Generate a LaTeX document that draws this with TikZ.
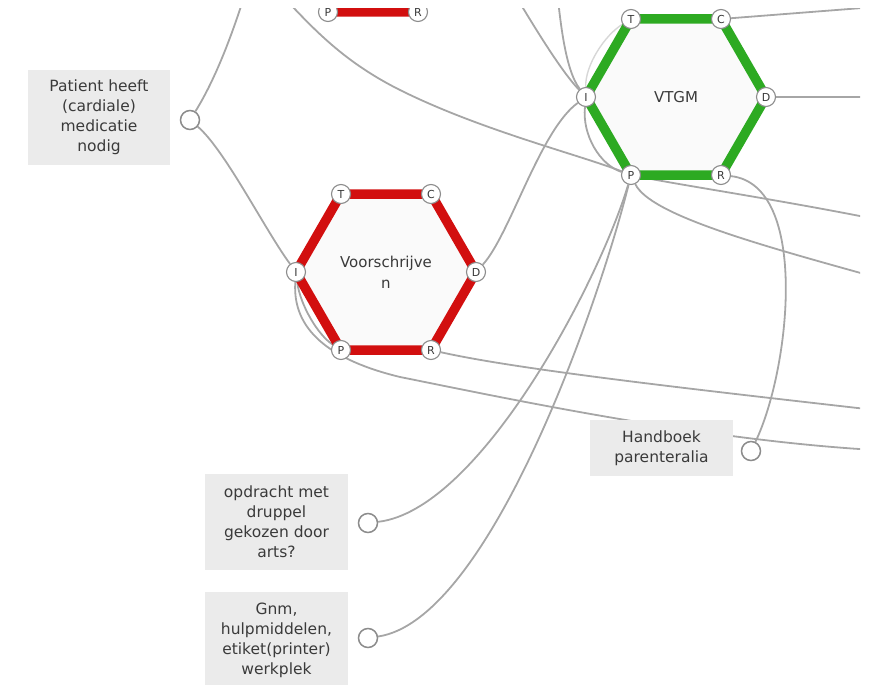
\documentclass[tikz,border=0pt]{standalone}
\usepackage{fontspec}
\setmainfont{DejaVu Sans}
\pgfdeclarelayer{links}
\pgfsetlayers{links,main}

\definecolor{linkgrey}{HTML}{A6A6A6}
\definecolor{portgrey}{HTML}{8C8C8C}
\definecolor{boxgrey}{HTML}{EBEBEB}
\definecolor{inkgrey}{HTML}{3A3A3A}
\definecolor{stopred}{HTML}{D20F0F}
\definecolor{gogreen}{HTML}{2DAA22}
\definecolor{hexfill}{HTML}{FAFAFA}

\tikzset{
  link/.style={draw=linkgrey, line width=1.8pt},
  faintlink/.style={draw=linkgrey!45, line width=1.4pt},
  infobox/.style={fill=boxgrey, text=inkgrey, align=center, inner sep=0pt,
    font=\fontsize{15.5}{20}\selectfont},
  socket/.style={circle, draw=portgrey, fill=white, line width=1.5pt,
    minimum size=19pt, inner sep=0pt},
  port/.style={circle, draw=portgrey, fill=white, line width=1.1pt,
    minimum size=19pt, inner sep=0pt, text=inkgrey, font=\fontsize{11}{11}\selectfont},
  hexside/.style={draw=#1, fill=hexfill, line width=9.5pt, line join=miter},
  hexlabel/.style={text=inkgrey, align=center, font=\fontsize{15}{21}\selectfont},
}

% hexagon of radius 90 around a named centre: #1 name, #2 x, #3 y, #4 colour, #5 label
\newcommand\hexagonat[5]{%
  \coordinate (#1) at (#2,#3);
  \filldraw[hexside=#4]
    ([shift={(-45,-78)}]#1) -- ([shift={(45,-78)}]#1) -- ([shift={(90,0)}]#1) --
    ([shift={(45,78)}]#1) -- ([shift={(-45,78)}]#1) -- ([shift={(-90,0)}]#1) -- cycle;
  \node[hexlabel] at (#1) {#5};
}
% lettered port on a hexagon corner: #1 hexagon, #2 letter, #3 dx, #4 dy
\newcommand\portat[4]{\node[port] (#1-#2) at ([shift={(#3,#4)}]#1) {#2};}
\newcommand\allports[1]{%
  \portat{#1}{T}{-45}{-78}\portat{#1}{C}{45}{-78}\portat{#1}{D}{90}{0}%
  \portat{#1}{R}{45}{78}\portat{#1}{P}{-45}{78}\portat{#1}{I}{-90}{0}}

\begin{document}
\begin{tikzpicture}[x=1pt,y=-1pt]
\useasboundingbox (0,0) rectangle (871,685);
\clip (0,9) rectangle (860,685);

% process hexagons
\hexagonat{top}{373}{-66}{stopred}{}
\hexagonat{vs}{386}{272}{stopred}{Voorschrijve\\n}
\hexagonat{vt}{676}{97}{gogreen}{VTGM}
\portat{top}{P}{-45}{78}
\portat{top}{R}{45}{78}
\allports{vs}
\allports{vt}

% information boxes with their sockets
\node[infobox, minimum width=142pt, minimum height=95pt] (patient) at (99,117.5)
  {Patient heeft\\(cardiale)\\medicatie\\nodig};
\node[socket] (patientsock) at (190,120) {};
\node[infobox, minimum width=143pt, minimum height=96pt] (opdracht) at (276.5,522)
  {opdracht met\\druppel\\gekozen door\\arts?};
\node[socket] (opdrachtsock) at (368,523) {};
\node[infobox, minimum width=143pt, minimum height=96pt] (gnm) at (276.5,640)
  {Gnm,\\hulpmiddelen,\\etiket(printer)\\werkplek};
\node[socket] (gnmsock) at (368,638) {};
\node[infobox, minimum width=143pt, minimum height=56pt] (handboek) at (661.5,448)
  {Handboek\\parenteralia};
\node[socket] (handboeksock) at (751,451) {};

% connectors, behind everything else
\begin{pgfonlayer}{links}
\begin{scope}
\clip (0,9) rectangle (860,685);
\coordinate (upA) at (275,-12);
\coordinate (upB) at (252,-30);
\coordinate (upC) at (505,-22);
\coordinate (upD) at (556,-20);
\coordinate (outA) at (875,219);
\coordinate (outB) at (875,277);
\coordinate (outC) at (875,450);
\coordinate (outD) at (875,410);
\coordinate (outE) at (875,7);
\coordinate (outF) at (875,97);

\draw[link] (patientsock) .. controls (215,80) and (235,30) .. (upB);
\draw[link] (patientsock) .. controls (225,150) and (265,230) .. (vs-I);
\draw[link] (upA) .. controls (310,25) and (340,60) .. (400,90)
                  .. controls (480,130) and (580,155) .. (vt-P);
\draw[link] (vt-P) .. controls (680,185) and (780,200) .. (outA);
\draw[link] (vt-I) .. controls (582,135) and (600,165) .. (vt-P);
\draw[link] (vt-P) .. controls (650,215) and (760,245) .. (outB);
\draw[faintlink] (vt-I) .. controls (585,65) and (605,35) .. (vt-T);
\draw[link] (upC) .. controls (530,20) and (560,70) .. (vt-I);
\draw[link] (upD) .. controls (560,20) and (565,70) .. (vt-I);
\draw[link] (vs-D) .. controls (510,235) and (540,130) .. (vt-I);
\draw[link] (vs-I) .. controls (300,305) and (318,335) .. (vs-P);
\draw[link] (vs-I) .. controls (292,330) and (330,360) .. (400,377)
                   .. controls (500,397) and (700,440) .. (outC);
\draw[link] (vs-R) .. controls (520,370) and (700,390) .. (outD);
\draw[link] (vt-P) .. controls (600,280) and (480,510) .. (opdrachtsock);
\draw[link] (vt-P) .. controls (600,300) and (490,620) .. (gnmsock);
\draw[link] (vt-R) .. controls (810,185) and (790,370) .. (handboeksock);
\draw[link] (vt-C) -- (outE);
\draw[link] (vt-D) -- (outF);
\end{scope}
\end{pgfonlayer}
\end{tikzpicture}
\end{document}
